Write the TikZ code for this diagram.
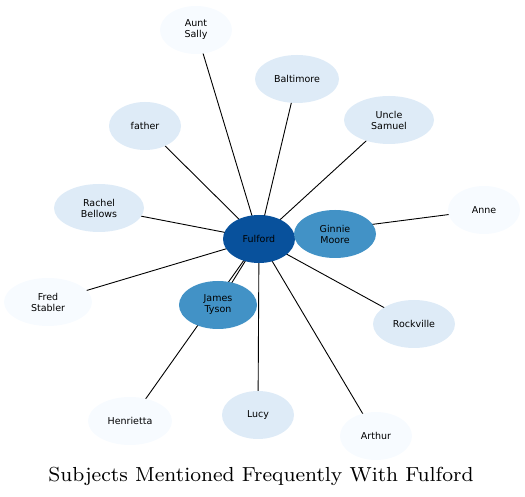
\documentclass[tikz,border=0pt]{standalone}
\usepackage{fontspec}
\newfontfamily\lab{DejaVu Sans}
\usetikzlibrary{shapes.geometric,backgrounds}
\definecolor{cA}{HTML}{F7FBFF}
\definecolor{cB}{HTML}{DEEBF7}
\definecolor{cC}{HTML}{4292C6}
\definecolor{cD}{HTML}{08519C}
\tikzset{
  ent/.style={ellipse,draw=none,inner sep=0pt,minimum height=48pt,align=center,
    font=\lab\fontsize{9.5}{11}\selectfont,text=black},
  lvA/.style={ent,fill=cA},
  lvB/.style={ent,fill=cB},
  lvC/.style={ent,fill=cC},
  lvD/.style={ent,fill=cD},
  link/.style={draw=black,line width=0.9pt}
}
\begin{document}
\begin{tikzpicture}[x=1pt,y=1pt]
\useasboundingbox (0,0) rectangle (525,497);
\node[lvD,minimum width=72pt] (ful) at (259,258) {Fulford};
\node[lvC,minimum width=82pt] (gin) at (335,263) {Ginnie\\Moore};
\node[lvC,minimum width=78pt] (jam) at (218,192) {James\\Tyson};
\node[lvA,minimum width=72pt] (aun) at (196,467) {Aunt\\Sally};
\node[lvB,minimum width=84pt] (bal) at (297,418) {Baltimore};
\node[lvB,minimum width=90pt] (unc) at (389,377) {Uncle\\Samuel};
\node[lvA,minimum width=72pt] (ann) at (484,287) {Anne};
\node[lvB,minimum width=72pt] (fat) at (145,371) {father};
\node[lvB,minimum width=90pt] (rac) at (99,289) {Rachel\\Bellows};
\node[lvA,minimum width=88pt] (fre) at (48,195) {Fred\\Stabler};
\node[lvB,minimum width=82pt] (roc) at (414,173) {Rockville};
\node[lvA,minimum width=84pt] (hen) at (130,76) {Henrietta};
\node[lvB,minimum width=72pt] (luc) at (258,82) {Lucy};
\node[lvA,minimum width=72pt] (art) at (376,61) {Arthur};
\node[inner sep=0pt] (ttl) at (261,21) {\resizebox{425pt}{!}{\fontsize{8}{9}\selectfont Subjects Mentioned Frequently With Fulford}};
\begin{pgfonlayer}{background}
\foreach \t in {gin,jam,aun,bal,unc,ann,fat,rac,fre,roc,hen,luc,art}
  \draw[link] (ful.center) -- (\t.center);
\end{pgfonlayer}
\end{tikzpicture}
\end{document}
